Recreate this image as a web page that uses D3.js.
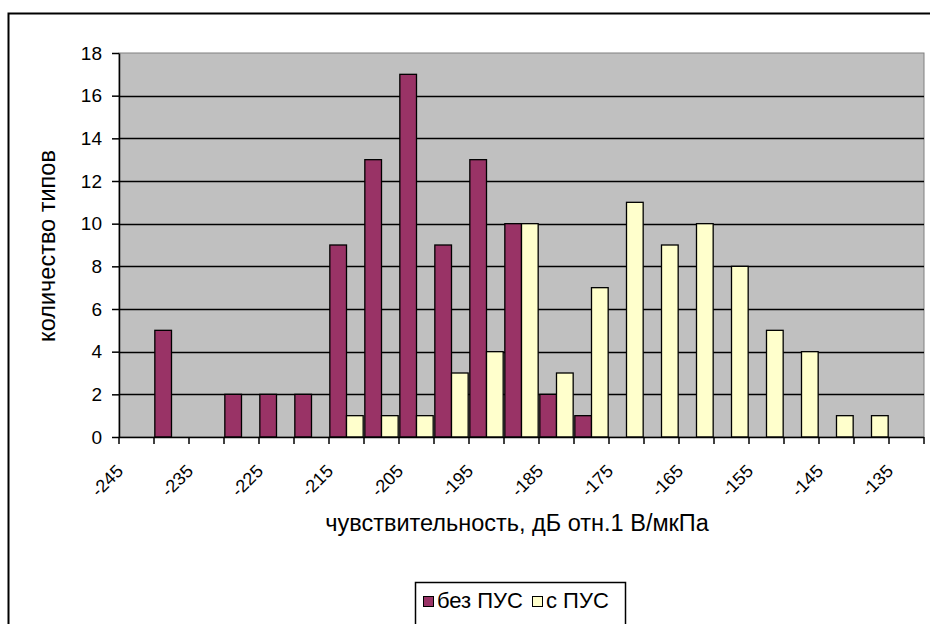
<!DOCTYPE html>
<html>
<head>
<meta charset="utf-8">
<script src="https://cdn.jsdelivr.net/npm/d3@7"></script>
<style>
  html, body { margin: 0; padding: 0; background: #fff; }
  svg { display: block; font-family: "Liberation Sans", Arial, sans-serif; }
</style>
</head>
<body>
<svg id="chart" width="930" height="624"></svg>
<script>
// Sensitivity bins, dB re 1 V/µPa
const categories = [-245, -240, -235, -230, -225, -220, -215, -210, -205, -200, -195, -190,
                    -185, -180, -175, -170, -165, -160, -155, -150, -145, -140, -135];
// Number of hydrophone types per bin
const withoutPreamp = [0, 5, 0, 2, 2, 2, 9, 13, 17, 9, 13, 10, 2, 1, 0, 0, 0, 0, 0, 0, 0, 0, 0];
const withPreamp    = [0, 0, 0, 0, 0, 0, 1, 1, 1, 3, 4, 10, 3, 7, 11, 9, 10, 8, 5, 4, 1, 1, 0];
const seriesNames = ["без ПУС", "с ПУС"];
const seriesColors = ["#993366", "#FFFFCC"];
const yTicks = [0, 2, 4, 6, 8, 10, 12, 14, 16, 18];
const xTickLabels = [-245, -235, -225, -215, -205, -195, -185, -175, -165, -155, -145, -135];
const xTitle = "чувствительность, дБ отн.1 В/мкПа";
const yTitle = "количество типов";

const svg = d3.select("#chart");
const plot = { left: 119, top: 53, right: 924, bottom: 437 };

// Outer chart frame (extends past the visible window)
svg.append("rect")
  .attr("x", 8.5).attr("y", 13.5)
  .attr("width", 1000).attr("height", 700)
  .attr("fill", "#fff").attr("stroke", "#000").attr("stroke-width", 2);

const x = d3.scaleBand().domain(categories).range([plot.left, plot.right]).paddingInner(0).paddingOuter(0);
const x1 = d3.scaleBand().domain([0, 1]).range([0, x.bandwidth()]).paddingOuter(0.05).paddingInner(0);
const y = d3.scaleLinear().domain([0, 18]).range([plot.bottom, plot.top]);

// Plot area
svg.append("rect")
  .attr("x", plot.left).attr("y", plot.top)
  .attr("width", plot.right - plot.left).attr("height", plot.bottom - plot.top)
  .attr("fill", "#C0C0C0").attr("stroke", "#808080").attr("stroke-width", 1);

// Horizontal gridlines
svg.append("g")
  .selectAll("line")
  .data(yTicks.filter(d => d > 0 && d < 18))
  .join("line")
  .attr("x1", plot.left).attr("x2", plot.right)
  .attr("y1", d => Math.round(y(d)) + 0.5).attr("y2", d => Math.round(y(d)) + 0.5)
  .attr("stroke", "#000").attr("stroke-width", 1.3);

// Bars
const series = [withoutPreamp, withPreamp];
series.forEach((vals, si) => {
  svg.append("g")
    .selectAll("rect")
    .data(categories.map((c, i) => ({ c, v: vals[i] })).filter(d => d.v > 0))
    .join("rect")
    .attr("x", d => x(d.c) + x1(si))
    .attr("y", d => y(d.v))
    .attr("width", x1.bandwidth())
    .attr("height", d => y(0) - y(d.v))
    .attr("fill", seriesColors[si])
    .attr("stroke", "#000").attr("stroke-width", 1.3);
});

// Y axis
const yAxis = d3.axisLeft(y).tickValues(yTicks).tickSize(7).tickPadding(10).tickSizeOuter(0);
const gy = svg.append("g").attr("transform", `translate(${plot.left},0)`).call(yAxis);
gy.attr("font-size", null).attr("font-family", null);
gy.select(".domain").attr("stroke", "#000").attr("stroke-width", 1.5);
gy.selectAll(".tick line").attr("stroke", "#000").attr("stroke-width", 1.5);
gy.selectAll(".tick text").style("font-size", "19px").attr("fill", "#000");

// X axis: tick marks at every bin boundary
const gx = svg.append("g");
gx.append("line")
  .attr("x1", plot.left).attr("x2", plot.right)
  .attr("y1", plot.bottom + 0.5).attr("y2", plot.bottom + 0.5)
  .attr("stroke", "#000").attr("stroke-width", 1.5);
const boundaries = categories.map(c => x(c)).concat([plot.right]);
gx.selectAll("line.tick")
  .data(boundaries)
  .join("line").attr("class", "tick")
  .attr("x1", d => d).attr("x2", d => d)
  .attr("y1", plot.bottom).attr("y2", plot.bottom + 7)
  .attr("stroke", "#000").attr("stroke-width", 1.5);
gx.selectAll("text")
  .data(xTickLabels)
  .join("text")
  .attr("transform", d => `translate(${x(d) + 1},${plot.bottom + 31}) rotate(-45)`)
  .attr("text-anchor", "end")
  .attr("dominant-baseline", "central")
  .style("font-size", "18px")
  .attr("fill", "#000")
  .text(d => d);

// Axis titles
svg.append("text")
  .attr("x", 517).attr("y", 531)
  .attr("text-anchor", "middle")
  .style("font-size", "23.5px")
  .text(xTitle);
svg.append("text")
  .attr("transform", `translate(55,246) rotate(-90)`)
  .attr("text-anchor", "middle")
  .style("font-size", "23.5px")
  .text(yTitle);

// Legend
const legend = svg.append("g");
legend.append("rect")
  .attr("x", 415.5).attr("y", 582.5).attr("width", 210).attr("height", 60)
  .attr("fill", "#fff").attr("stroke", "#000").attr("stroke-width", 1.5);
const legendX = [423, 532];
seriesNames.forEach((name, i) => {
  legend.append("rect")
    .attr("x", legendX[i] + 0.5).attr("y", 596.5).attr("width", 10).attr("height", 10)
    .attr("fill", seriesColors[i]).attr("stroke", "#000").attr("stroke-width", 1);
  legend.append("text")
    .attr("x", legendX[i] + 14).attr("y", 608)
    .style("font-size", "22px")
    .text(name);
});
</script>
</body>
</html>
